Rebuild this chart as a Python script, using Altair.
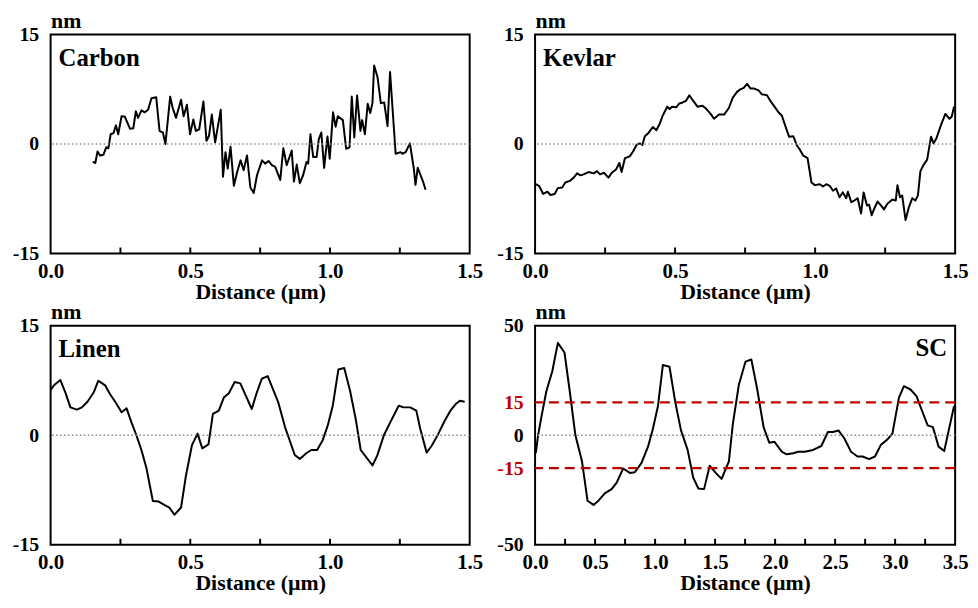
import altair as alt
import pandas as pd

# ---------------- data ----------------
carbon_x = [0.151, 0.160, 0.168, 0.177, 0.189, 0.199, 0.207, 0.215, 0.225, 0.234, 0.242, 0.254, 0.266, 0.284,
            0.296, 0.305, 0.313, 0.325, 0.337, 0.349, 0.361, 0.378, 0.390, 0.402, 0.411, 0.428, 0.437, 0.449,
            0.467, 0.476, 0.488, 0.499, 0.511, 0.520, 0.532, 0.547, 0.558, 0.567, 0.577, 0.589, 0.609, 0.617,
            0.626, 0.634, 0.644, 0.656, 0.668, 0.680, 0.691, 0.703, 0.715, 0.727, 0.739, 0.757, 0.768, 0.780,
            0.792, 0.804, 0.822, 0.833, 0.845, 0.863, 0.871, 0.881, 0.892, 0.904, 0.916, 0.922, 0.930, 0.940,
            0.952, 0.960, 0.969, 0.979, 0.991, 0.999, 1.011, 1.020, 1.028, 1.046, 1.058, 1.070, 1.078, 1.087,
            1.097, 1.109, 1.115, 1.125, 1.135, 1.144, 1.152, 1.158, 1.170, 1.182, 1.194, 1.206, 1.215, 1.235,
            1.253, 1.259, 1.271, 1.286, 1.300, 1.306, 1.314, 1.324, 1.333, 1.342]
carbon_y = [-2.46, -2.60, -1.03, -1.57, -1.48, -0.45, -0.58, 1.34, 1.48, 2.55, 1.34, 3.81, 3.72, 2.10,
            2.15, 4.48, 3.58, 4.61, 4.34, 4.70, 6.27, 6.40, 1.79, 1.57, 0.00, 6.49, 4.93, 3.58,
            6.05, 3.81, 5.37, 1.34, 3.36, 1.79, 2.02, 5.82, 0.45, 1.12, 4.03, 0.22, 4.70, -4.48,
            -1.12, -3.36, -0.36, -5.73, -3.81, -2.24, -3.58, -1.57, -5.96, -6.72, -4.25, -2.24, -2.69, -2.33,
            -2.91, -3.13, -4.93, -0.58, -2.91, -0.90, -5.15, -2.82, -5.37, -4.25, -2.46, -2.69, 1.34, -1.79,
            -1.79, 0.67, 1.57, -3.27, 1.03, -2.02, 4.34, 2.37, 3.81, 3.27, -0.67, -0.45, 6.49, 0.90,
            6.63, 1.79, 3.27, 1.34, 5.51, 4.25, 5.60, 10.75, 9.18, 5.60, 5.69, 2.46, 9.85, -1.34,
            -1.12, -1.34, -1.12, 0.09, -3.36, -5.60, -3.27, -4.25, -5.15, -6.27]

kevlar_x = [0.002, 0.014, 0.029, 0.044, 0.055, 0.070, 0.081, 0.097, 0.108, 0.124, 0.138, 0.150, 0.162, 0.173,
            0.191, 0.209, 0.221, 0.232, 0.246, 0.262, 0.274, 0.289, 0.301, 0.309, 0.321, 0.338, 0.350, 0.362,
            0.374, 0.383, 0.392, 0.403, 0.421, 0.433, 0.445, 0.456, 0.472, 0.480, 0.489, 0.504, 0.515, 0.527,
            0.539, 0.551, 0.563, 0.580, 0.598, 0.612, 0.627, 0.639, 0.657, 0.675, 0.692, 0.706, 0.722, 0.733,
            0.745, 0.757, 0.769, 0.781, 0.798, 0.810, 0.828, 0.840, 0.857, 0.869, 0.881, 0.893, 0.907, 0.922,
            0.934, 0.946, 0.958, 0.973, 0.987, 0.999, 1.017, 1.028, 1.040, 1.052, 1.064, 1.075, 1.087, 1.099,
            1.111, 1.117, 1.129, 1.140, 1.152, 1.164, 1.173, 1.185, 1.193, 1.202, 1.211, 1.223, 1.235, 1.246,
            1.258, 1.276, 1.288, 1.294, 1.303, 1.311, 1.323, 1.335, 1.347, 1.358, 1.367, 1.376, 1.388, 1.400,
            1.414, 1.423, 1.433, 1.447, 1.465, 1.480, 1.488, 1.496]
kevlar_y = [-5.51, -5.73, -6.85, -6.54, -6.99, -6.85, -6.05, -5.96, -5.28, -5.06, -4.61, -4.03, -4.30, -4.16,
            -3.85, -4.03, -3.72, -4.16, -3.94, -4.61, -3.94, -3.49, -2.60, -3.85, -1.93, -1.70, -1.03, -0.13,
            0.09, -0.13, 1.07, 1.43, 2.33, 1.88, 2.78, 3.90, 5.11, 4.79, 5.11, 5.02, 5.55, 5.69,
            5.91, 6.67, 6.00, 5.11, 5.24, 4.79, 4.12, 3.45, 4.03, 4.03, 4.93, 6.36, 7.17, 7.48,
            7.70, 8.24, 7.61, 7.61, 7.34, 6.81, 6.67, 5.91, 5.02, 4.34, 3.90, 2.55, 0.99, 1.07,
            -0.13, -0.81, -1.61, -1.93, -5.28, -5.64, -5.51, -5.82, -5.51, -5.73, -6.40, -6.09, -7.30, -6.63,
            -7.43, -6.54, -7.97, -7.75, -7.43, -9.54, -6.63, -8.42, -8.33, -9.76, -8.87, -7.88, -8.42, -8.96,
            -8.20, -7.61, -7.75, -5.64, -7.30, -7.08, -10.43, -8.64, -7.43, -7.75, -7.08, -3.72, -2.82, -2.15,
            0.99, 0.09, 0.76, 2.33, 4.12, 3.45, 3.76, 5.11]

linen_x = [0.000, 0.012, 0.035, 0.053, 0.071, 0.094, 0.112, 0.132, 0.154, 0.171, 0.195, 0.213, 0.234, 0.254,
           0.272, 0.289, 0.307, 0.325, 0.343, 0.366, 0.387, 0.407, 0.425, 0.443, 0.467, 0.484, 0.506, 0.526,
           0.543, 0.565, 0.581, 0.602, 0.620, 0.638, 0.659, 0.679, 0.720, 0.738, 0.756, 0.777, 0.815, 0.839,
           0.874, 0.892, 0.915, 0.933, 0.954, 0.974, 0.992, 1.010, 1.030, 1.051, 1.072, 1.092, 1.110, 1.152,
           1.169, 1.193, 1.216, 1.246, 1.264, 1.287, 1.309, 1.323, 1.346, 1.364, 1.388, 1.411, 1.431, 1.450,
           1.465, 1.482]
linen_y = [6.21, 6.84, 7.56, 5.85, 3.82, 3.51, 3.82, 4.59, 5.85, 7.47, 6.84, 5.62, 4.41, 3.15,
           3.69, 1.80, 0.00, -2.02, -4.50, -9.00, -9.09, -9.54, -9.90, -10.89, -9.90, -5.62, -1.35, 0.22,
           -1.80, -1.26, 2.92, 3.37, 5.17, 5.76, 7.29, 7.11, 3.60, 5.85, 7.74, 8.10, 4.50, 1.12,
           -2.70, -3.24, -2.47, -2.02, -2.02, -0.67, 1.35, 4.05, 9.00, 9.22, 6.07, 2.25, -2.02, -4.14,
           -2.79, 0.00, 1.80, 4.05, 3.82, 3.82, 3.37, 0.90, -2.38, -1.44, 0.22, 2.02, 3.37, 4.27,
           4.72, 4.59]

sc_x = [0.006, 0.025, 0.052, 0.094, 0.143, 0.190, 0.245, 0.289, 0.336, 0.391, 0.437, 0.487, 0.528, 0.583,
        0.638, 0.680, 0.734, 0.790, 0.831, 0.886, 0.941, 0.982, 1.024, 1.065, 1.120, 1.169, 1.216, 1.271,
        1.318, 1.361, 1.408, 1.455, 1.505, 1.554, 1.615, 1.648, 1.698, 1.753, 1.802, 1.849, 1.904, 1.951,
        1.995, 2.055, 2.096, 2.151, 2.192, 2.247, 2.316, 2.385, 2.440, 2.481, 2.528, 2.577, 2.632, 2.687,
        2.729, 2.783, 2.832, 2.880, 2.930, 2.977, 3.032, 3.073, 3.128, 3.178, 3.224, 3.271, 3.315, 3.362,
        3.409, 3.491]
sc_y = [-8.2, 0.0, 8.2, 20.1, 29.1, 42.2, 37.8, 20.1, 0.0, -11.9, -29.9, -31.8, -29.9, -26.4,
        -24.6, -21.6, -15.2, -17.2, -16.9, -12.7, -5.2, 3.0, 13.4, 32.1, 31.3, 14.9, 2.2, -6.7,
        -19.4, -24.3, -24.6, -13.9, -17.2, -19.9, -11.9, 5.2, 23.1, 33.6, 34.6, 21.6, 3.7, -3.4,
        -3.0, -7.5, -8.7, -8.2, -7.5, -7.5, -6.7, -4.9, 1.5, 1.5, 2.2, -1.5, -7.5, -9.7,
        -9.7, -10.9, -9.7, -4.5, -2.2, 0.7, 17.2, 22.4, 20.9, 17.9, 11.2, 4.5, 3.7, -5.2,
        -7.2, 13.4]

sample_names = ["Carbon", "Kevlar", "Linen", "SC"]
x_max = [1.5, 1.5, 1.5, 3.5]
y_max = [15, 15, 15, 50]
x_label_values = [[0.0, 0.5, 1.0, 1.5], [0.0, 0.5, 1.0, 1.5], [0.0, 0.5, 1.0, 1.5],
                  [0.0, 0.5, 1.0, 1.5, 2.0, 2.5, 3.0, 3.5]]
x_minor_ticks = [[0.25, 0.5, 0.75, 1.0, 1.25], [0.25, 0.5, 0.75, 1.0, 1.25], [0.25, 0.5, 0.75, 1.0, 1.25],
                 [0.25, 0.5, 0.75, 1.0, 1.25, 1.5, 1.75, 2.0, 2.25, 2.5, 2.75, 3.0, 3.25]]
y_label_values = [[-15, 0, 15], [-15, 0, 15], [-15, 0, 15], [-50, -15, 0, 15, 50]]
sc_thresholds = [-15, 15]

FONT = "Liberation Serif"
RED = "#c00000"
H = 221


def panel(i, xs, ys, w):
    xmax, ymax = x_max[i], y_max[i]
    xscale = alt.Scale(domain=[0, xmax], nice=False, zero=False)
    yscale = alt.Scale(domain=[-ymax, ymax], nice=False, zero=False)
    df = pd.DataFrame({"x": xs, "y": ys})

    label_color = "black"
    if i == 3:
        label_color = {"condition": {"test": "abs(datum.value) == 15", "value": RED}, "value": "black"}

    x_axis = alt.Axis(
        values=x_label_values[i], format=".1f", title="Distance (µm)",
        ticks=False, tickSize=0, domain=False, grid=False, labelFlush=False,
        labelPadding=7, titlePadding=0, labelFontSize=21, titleFontSize=22)
    y_axis = alt.Axis(
        values=y_label_values[i], title="nm", titleAngle=0, titleAlign="left",
        titleBaseline="alphabetic", titleX=0, titleY=-7,
        labelExpr="datum.value < 0 ? '-' + toString(abs(datum.value)) : toString(datum.value)",
        ticks=False, tickSize=0, domain=False, grid=False, labelFlush=False,
        labelPadding=12, labelFontSize=20, titleFontSize=22, labelColor=label_color)

    line = alt.Chart(df).mark_line(color="black", strokeWidth=2, strokeJoin="round").encode(
        x=alt.X("x:Q", scale=xscale, axis=x_axis),
        y=alt.Y("y:Q", scale=yscale, axis=y_axis),
    )

    zero = alt.Chart(pd.DataFrame({"y": [0]})).mark_rule(
        color="#8a8a8a", strokeWidth=1.5, strokeDash=[1.5, 2.5]).encode(
        y=alt.Y("y:Q", scale=yscale, axis=y_axis))

    ticks = alt.Chart(pd.DataFrame({"x": x_minor_ticks[i]})).mark_rule(
        color="black", strokeWidth=2).encode(
        x=alt.X("x:Q", scale=xscale, axis=x_axis),
        y=alt.value(H), y2=alt.value(H - 6))

    if i == 3:
        name = alt.Chart(pd.DataFrame({"t": [sample_names[i]]})).mark_text(
            font=FONT, fontWeight="bold", fontSize=25, align="right", baseline="alphabetic",
            color="black").encode(x=alt.value(w - 8), y=alt.value(30), text="t:N")
    else:
        name = alt.Chart(pd.DataFrame({"t": [sample_names[i]]})).mark_text(
            font=FONT, fontWeight="bold", fontSize=25, align="left", baseline="alphabetic",
            color="black").encode(x=alt.value(8), y=alt.value(32), text="t:N")

    layers = [line, zero]
    if i == 3:
        thr = alt.Chart(pd.DataFrame({"y": sc_thresholds})).mark_rule(
            color=RED, strokeWidth=2.3, strokeDash=[10, 6]).encode(
            y=alt.Y("y:Q", scale=yscale, axis=y_axis))
        layers.append(thr)
    layers += [ticks, name]
    return alt.layer(*layers).properties(width=w, height=H)


c1 = panel(0, carbon_x, carbon_y, 423)
c2 = panel(1, kevlar_x, kevlar_y, 424)
c3 = panel(2, linen_x, linen_y, 423)
c4 = panel(3, sc_x, sc_y, 424)

chart = alt.concat(c1, c2, c3, c4, columns=2, spacing={"row": 73, "column": 66}, bounds="flush").properties(
    padding={"left": 3, "top": -2, "right": 0, "bottom": 0}
).configure_view(
    stroke="black", strokeWidth=2
).configure_axis(
    labelFont=FONT, titleFont=FONT, labelFontWeight="bold", titleFontWeight="bold",
    labelColor="black", titleColor="black"
)

chart.save("out.html", embed_options={"renderer": "svg", "actions": False})
